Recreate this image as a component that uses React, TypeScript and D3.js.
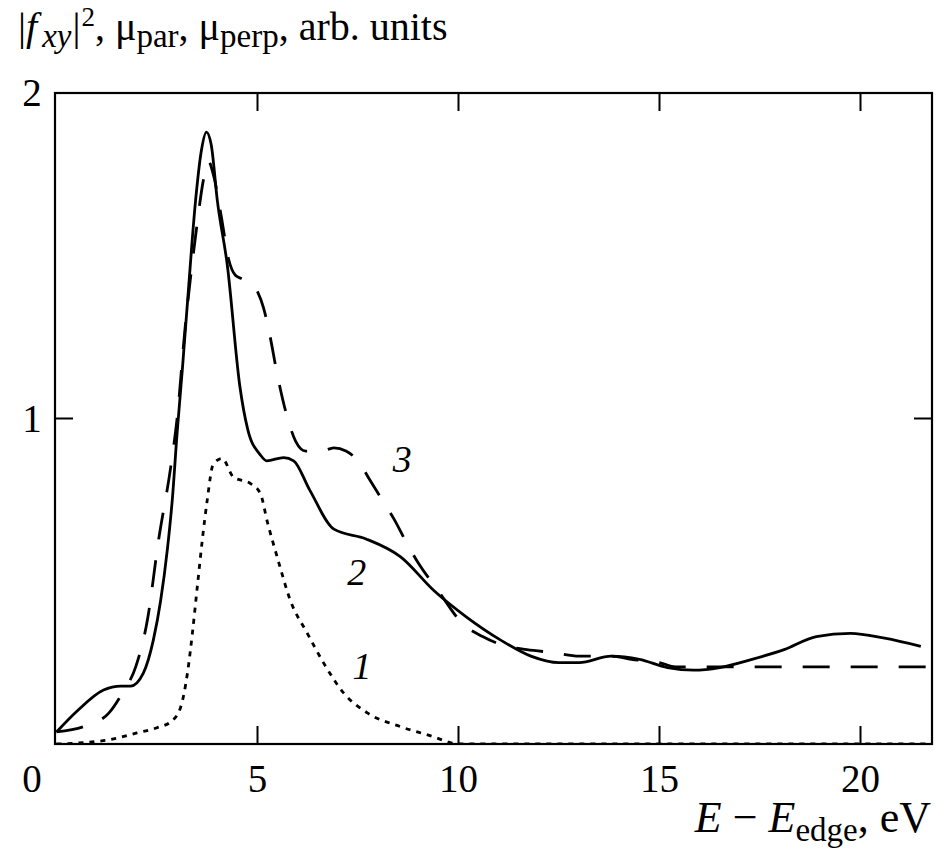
import React from "react";
import * as d3 from "d3";

// Curve 2 (solid)
const solidX = [0, 0.5, 1.17, 1.6, 1.84, 2.16, 2.41, 2.59, 2.76, 2.88, 3.0, 3.13, 3.26, 3.46, 3.6, 3.73, 3.85, 4.0, 4.25, 4.56, 4.76, 5.06, 5.23, 5.65, 5.9, 6.3, 6.9, 7.7, 8.56, 9.4, 10.2, 11.04, 11.8, 12.5, 13.0, 13.8, 14.5, 15.2, 15.85, 16.5, 17.3, 18.1, 18.9, 19.75, 20.6, 21.5];
const solidY = [0.037, 0.1, 0.166, 0.178, 0.178, 0.218, 0.32, 0.44, 0.6, 0.75, 0.955, 1.15, 1.36, 1.67, 1.82, 1.88, 1.84, 1.67, 1.47, 1.1, 0.965, 0.89, 0.87, 0.88, 0.87, 0.78, 0.66, 0.63, 0.575, 0.47, 0.39, 0.32, 0.27, 0.25, 0.25, 0.27, 0.26, 0.235, 0.227, 0.235, 0.26, 0.29, 0.33, 0.34, 0.325, 0.3];

// Curve 3 (dashed)
const dashX = [0, 0.77, 1.3, 1.64, 1.97, 2.26, 2.54, 2.84, 3.0, 3.2, 3.35, 3.5, 3.65, 3.78, 3.9, 4.1, 4.28, 4.45, 4.6, 4.8, 5.0, 5.15, 5.3, 5.5, 5.75, 5.95, 6.2, 6.6, 6.9, 7.2, 7.5, 7.8, 8.1, 8.4, 8.7, 9.0, 9.5, 10.1, 10.6, 11.2, 11.7, 12.4, 13.0, 13.8, 14.3, 15.0, 15.4, 16.0, 17.0, 18.0, 19.0, 20.0, 21.8];
const dashY = [0.037, 0.058, 0.095, 0.157, 0.237, 0.38, 0.627, 0.85, 1.0, 1.28, 1.45, 1.6, 1.73, 1.79, 1.75, 1.62, 1.49, 1.44, 1.43, 1.42, 1.39, 1.34, 1.26, 1.13, 1.0, 0.93, 0.9, 0.9, 0.91, 0.9, 0.87, 0.81, 0.75, 0.69, 0.62, 0.556, 0.47, 0.37, 0.33, 0.3, 0.29, 0.28, 0.27, 0.27, 0.26, 0.25, 0.237, 0.237, 0.237, 0.237, 0.237, 0.237, 0.237];

// Curve 1 (dotted)
const dotX = [0, 1.27, 2.0, 2.5, 2.84, 3.08, 3.26, 3.38, 3.5, 3.63, 3.75, 3.9, 4.12, 4.4, 4.83, 5.07, 5.25, 5.5, 5.82, 6.24, 6.64, 7.14, 7.74, 8.56, 9.38, 9.7, 10.0, 12.0, 15.0, 18.0, 21.8];
const dotY = [0, 0.012, 0.034, 0.05, 0.068, 0.11, 0.22, 0.34, 0.48, 0.63, 0.75, 0.86, 0.877, 0.82, 0.8, 0.77, 0.68, 0.57, 0.44, 0.34, 0.25, 0.157, 0.095, 0.053, 0.022, 0.008, 0, 0, 0, 0, 0];

const xTicks = [0, 5, 10, 15, 20];
const yTicks = [0, 1, 2];
const curveLabels = ["1", "2", "3"];
const labelX = [7.6, 7.47, 8.6];
const labelY = [0.2, 0.488, 0.836];

export default function App() {
  const left = 55, right = 932, top = 93, bottom = 744;
  const x = d3.scaleLinear().domain([0, 20]).range([56.5, 56.5 + 20 * 40.2]);
  const y = d3.scaleLinear().domain([0, 2]).range([bottom, top]);
  const mk = (xs: number[], ys: number[]) =>
    d3.line<number>().x((d, i) => x(xs[i])).y((d, i) => y(ys[i])).curve(d3.curveMonotoneX)(ys) || "";
  const ff = { fontFamily: '"Liberation Serif"' };
  const tick = 18;
  const sw = 2.8;
  return (
    <svg width={940} height={851} style={{ position: "absolute", left: 0, top: 0, background: "#fff" }}>
      <defs>
        <clipPath id="plot">
          <rect x={left} y={top} width={right - left} height={bottom - top} />
        </clipPath>
      </defs>
      <g clipPath="url(#plot)" fill="none" stroke="#000">
        <path d={mk(dotX, dotY)} strokeWidth={sw} strokeDasharray="5,6" />
        <path d={mk(dashX, dashY)} strokeWidth={sw} strokeDasharray="27,21" />
        <path d={mk(solidX, solidY)} strokeWidth={sw} />
      </g>
      <rect x={left} y={top} width={right - left} height={bottom - top} fill="none" stroke="#000" strokeWidth={2.2} />
      {xTicks.filter((t) => t > 0).map((t) => (
        <g key={"xt" + t} stroke="#000" strokeWidth={2}>
          <line x1={x(t)} x2={x(t)} y1={bottom} y2={bottom - tick} />
          <line x1={x(t)} x2={x(t)} y1={top} y2={top + tick} />
        </g>
      ))}
      {yTicks.filter((t) => t > 0 && t < 2).map((t) => (
        <g key={"yt" + t} stroke="#000" strokeWidth={2}>
          <line x1={left} x2={left + tick} y1={y(t)} y2={y(t)} />
          <line x1={right} x2={right - tick} y1={y(t)} y2={y(t)} />
        </g>
      ))}
      {xTicks.map((t) => (
        <text key={"xl" + t} x={t === 0 ? 32 : x(t)} y={792} fontSize={39} textAnchor="middle" style={ff}>{t}</text>
      ))}
      {yTicks.filter((t) => t > 0).map((t) => (
        <text key={"yl" + t} x={32} y={y(t) + 13} fontSize={39} textAnchor="middle" style={ff}>{t}</text>
      ))}
      {curveLabels.map((l, i) => (
        <text key={"cl" + l} x={x(labelX[i])} y={y(labelY[i])} fontSize={38} fontStyle="italic" textAnchor="middle" style={ff}>{l}</text>
      ))}
      <text x={18} y={40} fontSize={40} style={ff}>
        <tspan>|</tspan>
        <tspan fontStyle="italic">f</tspan>
        <tspan fontStyle="italic" fontSize={33} dx={5} dy={7}>xy</tspan>
        <tspan dx={1} dy={-7}>|</tspan>
        <tspan fontSize={27} dx={1} dy={-14}>2</tspan>
        <tspan dy={14}>, μ</tspan>
        <tspan fontSize={33} dy={7}>par</tspan>
        <tspan dy={-7}>, μ</tspan>
        <tspan fontSize={33} dy={7}>perp</tspan>
        <tspan dy={-7}>, arb. units</tspan>
      </text>
      <text x={931} y={832} fontSize={44} textAnchor="end" style={ff}>
        <tspan fontStyle="italic">E</tspan>
        <tspan> − </tspan>
        <tspan fontStyle="italic">E</tspan>
        <tspan fontSize={33} dy={9}>edge</tspan>
        <tspan dy={-9}>, eV</tspan>
      </text>
    </svg>
  );
}
